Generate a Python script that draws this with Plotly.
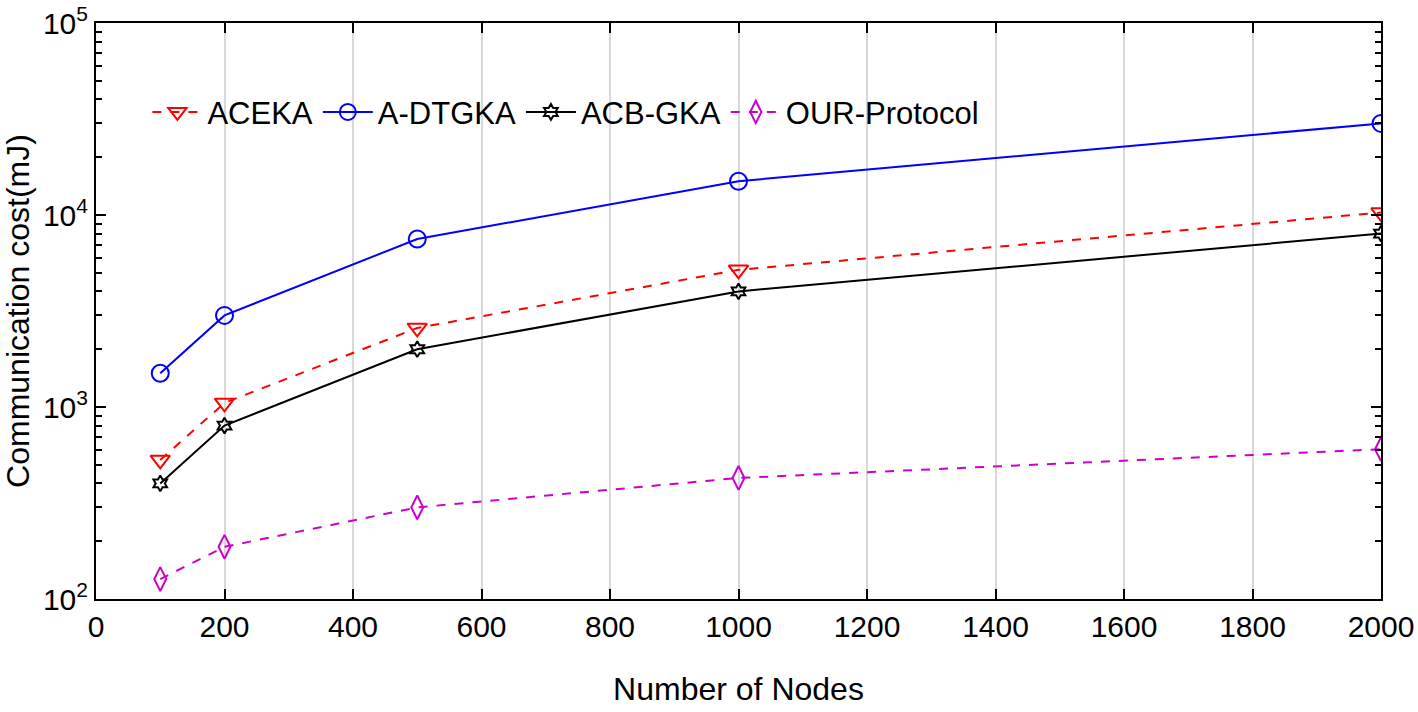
import plotly.graph_objects as go

nodes = [100, 200, 500, 1000, 2000]
aceka = [530, 1050, 2580, 5180, 10300]
adtgka = [1500, 3000, 7500, 15000, 30000]
acbgka = [400, 800, 2000, 4000, 8000]
ours = [127, 187, 300, 427, 603]

y_major = [100, 1000, 10000, 100000]
y_major_text = ["10<sup>2</sup>", "10<sup>3</sup>", "10<sup>4</sup>", "10<sup>5</sup>"]
y_minor = [m * d for d in (100, 1000, 10000) for m in range(2, 10)]

FONT = "Liberation Sans Narrow, Liberation Sans, Arial, sans-serif"

fig = go.Figure()
fig.add_trace(go.Scatter(x=nodes, y=aceka, name="ACEKA", mode="lines+markers",
                         line=dict(color="#ff0000", width=2, dash="dash"),
                         marker=dict(symbol="triangle-down-open", size=17, color="#ff0000", line=dict(width=2))))
fig.add_trace(go.Scatter(x=nodes, y=adtgka, name="A-DTGKA", mode="lines+markers",
                         line=dict(color="#0000ff", width=2),
                         marker=dict(symbol="circle-open", size=17, color="#0000ff", line=dict(width=2))))
fig.add_trace(go.Scatter(x=nodes, y=acbgka, name="ACB-GKA", mode="lines+markers",
                         line=dict(color="#000000", width=2),
                         marker=dict(symbol="hexagram-open", size=12, color="#000000", line=dict(width=2))))
fig.add_trace(go.Scatter(x=nodes, y=ours, name="OUR-Protocol", mode="lines+markers",
                         line=dict(color="#cc00cc", width=2, dash="dash"),
                         marker=dict(symbol="diamond-tall-open", size=17, color="#cc00cc", line=dict(width=2))))

fig.update_layout(
    width=1418, height=712,
    margin=dict(l=96, r=37, t=23, b=113, autoexpand=False),
    paper_bgcolor="white", plot_bgcolor="white",
    font=dict(family=FONT, size=30, color="black"),
    showlegend=True,
    legend=dict(orientation="h", x=0.04, y=0.845, xanchor="left", yanchor="middle",
                bgcolor="rgba(0,0,0,0)", font=dict(size=31), tracegroupgap=0, itemwidth=50),
)
fig.update_xaxes(
    range=[0, 2000], dtick=200, tick0=0, automargin=False,
    showgrid=True, gridcolor="#d9d9d9", gridwidth=1.5,
    showline=True, linecolor="black", linewidth=2, mirror="ticks",
    ticks="inside", ticklen=10, tickcolor="black", tickwidth=2,
    zeroline=False,
    title=dict(text="Number of Nodes", font=dict(size=32), standoff=36),
    tickfont=dict(size=30),
)
fig.update_yaxes(
    type="log", range=[2, 5], automargin=False,
    tickmode="array", tickvals=y_major, ticktext=y_major_text,
    showgrid=False,
    showline=True, linecolor="black", linewidth=2, mirror="ticks",
    ticks="inside", ticklen=10, tickcolor="black", tickwidth=2,
    minor=dict(tickmode="array", tickvals=y_minor, ticks="inside", ticklen=6,
               tickcolor="black", tickwidth=2, showgrid=False),
    title=dict(text="Communication cost(mJ)", font=dict(size=32), standoff=6),
    tickfont=dict(size=30),
)

fig.write_html("out.html", config={"displayModeBar": False},
               post_script="document.body.style.margin='0';")
